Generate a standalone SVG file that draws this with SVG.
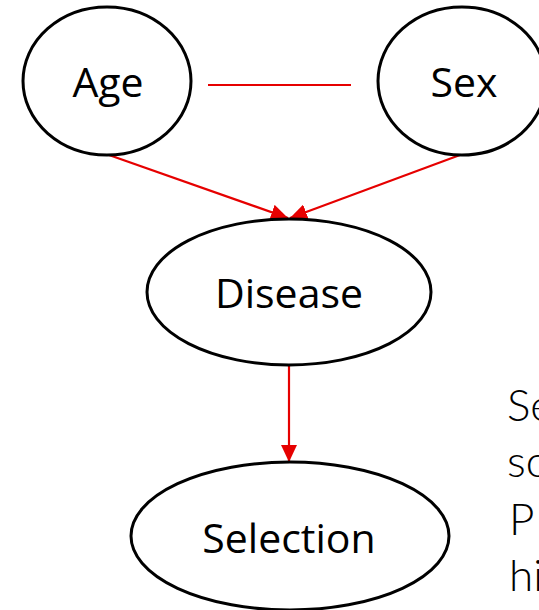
<svg xmlns="http://www.w3.org/2000/svg" width="539" height="610" viewBox="0 0 539 610">
  <defs>
    <style>
      .node { fill: #ffffff; stroke: #000000; stroke-width: 3; }
      .label { font-family: "Open Sans", "Noto Sans", "DejaVu Sans", sans-serif; font-size: 41px; fill: #000000; text-anchor: middle; }
      .edge { stroke: #e60000; stroke-width: 2.2; fill: none; }
      .note { font-family: "Lato", "Open Sans", sans-serif; font-weight: 300; font-size: 44px; fill: #000000; }
    </style>
    <marker id="arrow" markerUnits="userSpaceOnUse" markerWidth="18" markerHeight="16" refX="17" refY="8" orient="auto">
      <path d="M0,0 L17,8 L0,16 Z" fill="#e60000"/>
    </marker>
  </defs>

  <!-- connectors -->
  <g id="edges">
    <line class="edge" x1="208" y1="85" x2="351" y2="85"/>
    <line class="edge" x1="109" y1="155" x2="288" y2="218" marker-end="url(#arrow)"/>
    <line class="edge" x1="460" y1="155" x2="290" y2="218" marker-end="url(#arrow)"/>
    <line class="edge" x1="289" y1="366" x2="289" y2="462" marker-end="url(#arrow)"/>
  </g>

  <!-- nodes -->
  <g id="age">
    <ellipse class="node" cx="107" cy="81" rx="84" ry="74"/>
    <text class="label" x="108" y="97">Age</text>
  </g>
  <g id="sex">
    <ellipse class="node" cx="462" cy="81" rx="84" ry="74"/>
    <text class="label" x="464" y="97">Sex</text>
  </g>
  <g id="disease">
    <ellipse class="node" cx="289" cy="292" rx="142" ry="73"/>
    <text class="label" x="289" y="308">Disease</text>
  </g>
  <g id="selection">
    <ellipse class="node" cx="290" cy="536" rx="159" ry="74"/>
    <text class="label" x="289" y="553">Selection</text>
  </g>

  <!-- side note, running off the right edge -->
  <g id="note">
    <text class="note" x="507" y="421">Se</text>
    <text class="note" x="507" y="477">sc</text>
    <text class="note" x="509" y="535">P</text>
    <text class="note" x="509" y="591">hi</text>
  </g>
</svg>
